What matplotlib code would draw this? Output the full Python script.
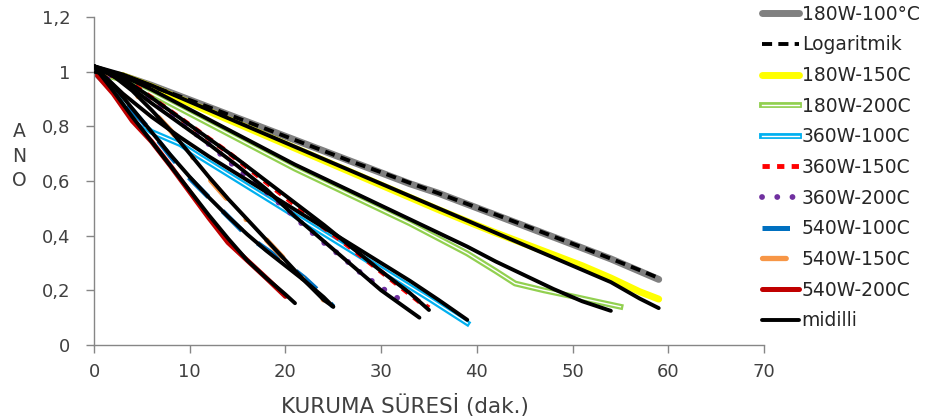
import matplotlib
matplotlib.use("Agg")
import matplotlib.pyplot as plt
import matplotlib.patheffects as pe

plt.rcParams['font.family'] = ['DejaVu Sans']

# ---------------- data ----------------
t_180_100 = [0, 3, 6, 9, 12, 15, 18, 21, 24, 27, 30, 33, 36, 39, 42, 45, 48, 51, 54, 57, 59]
mr_180_100 = [1.0, 0.985, 0.95, 0.91, 0.87, 0.83, 0.79, 0.75, 0.71, 0.67, 0.63, 0.59, 0.555,
              0.515, 0.475, 0.435, 0.395, 0.355, 0.315, 0.27, 0.24]
mr_log = [1.0, 0.98, 0.947, 0.909, 0.87, 0.83, 0.79, 0.75, 0.71, 0.67, 0.632, 0.593, 0.555,
          0.516, 0.477, 0.437, 0.397, 0.357, 0.316, 0.274, 0.245]

t_180_150 = [0, 3, 6, 9, 12, 15, 18, 21, 24, 27, 30, 33, 36, 39, 42, 45, 48, 51, 54, 57, 59]
mr_180_150 = [1.0, 0.985, 0.945, 0.9, 0.855, 0.81, 0.765, 0.72, 0.675, 0.63, 0.585, 0.54, 0.495,
              0.452, 0.41, 0.37, 0.33, 0.29, 0.245, 0.195, 0.168]
mid_180_150 = [1.02, 0.99, 0.95, 0.905, 0.86, 0.815, 0.77, 0.725, 0.68, 0.635, 0.59, 0.545, 0.5,
               0.455, 0.41, 0.365, 0.32, 0.275, 0.23, 0.17, 0.135]

t_180_200 = [0, 3, 6, 9, 12, 15, 18, 21, 24, 27, 30, 33, 36, 39, 42, 44, 47, 50, 53, 55]
mr_180_200 = [1.0, 0.97, 0.92, 0.865, 0.81, 0.755, 0.7, 0.645, 0.595, 0.545, 0.495, 0.445, 0.39,
              0.335, 0.27, 0.225, 0.2, 0.178, 0.155, 0.14]
tm_180_200 = [0, 3, 6, 9, 12, 15, 18, 21, 24, 27, 30, 33, 36, 39, 42, 45, 48, 51, 54]
mid_180_200 = [1.02, 0.985, 0.935, 0.88, 0.825, 0.77, 0.715, 0.66, 0.61, 0.56, 0.51, 0.46, 0.41,
               0.36, 0.305, 0.255, 0.205, 0.16, 0.125]

t_360_100 = [0, 2, 3.5, 6, 9, 11, 14, 17, 20, 23, 26, 29, 32, 35, 37, 39]
mr_360_100 = [1.0, 0.93, 0.85, 0.78, 0.735, 0.69, 0.625, 0.56, 0.495, 0.43, 0.365, 0.30, 0.235,
              0.17, 0.125, 0.08]
tm_360_100 = [0, 3, 6, 9, 12, 15, 18, 21, 24, 27, 30, 33, 36, 39]
mid_360_100 = [1.02, 0.92, 0.835, 0.76, 0.69, 0.625, 0.56, 0.495, 0.43, 0.365, 0.3, 0.235, 0.165, 0.092]

t_360_150 = [0, 2, 4, 6, 8, 10, 12, 14, 16, 18, 20, 22, 24, 26, 28, 30, 32, 34, 35]
mr_360_150 = [1.0, 0.985, 0.955, 0.905, 0.855, 0.805, 0.755, 0.705, 0.65, 0.595, 0.54, 0.486,
              0.43, 0.378, 0.323, 0.268, 0.213, 0.158, 0.136]
tm_360_150 = [0, 3, 6, 9, 12, 15, 18, 21, 24, 27, 30, 33, 35]
mid_360_150 = [1.02, 0.975, 0.905, 0.83, 0.755, 0.68, 0.6, 0.52, 0.44, 0.355, 0.27, 0.19, 0.128]

t_360_200 = [0, 2, 4, 6, 8, 10, 12, 14, 16, 18, 20, 22, 24, 26, 28, 30, 32, 33]
mr_360_200 = [1.0, 0.98, 0.95, 0.89, 0.84, 0.79, 0.735, 0.675, 0.615, 0.56, 0.50, 0.435, 0.375,
              0.32, 0.26, 0.21, 0.165, 0.147]
tm_360_200 = [0, 3, 6, 9, 12, 15, 18, 21, 24, 27, 30, 32, 34]
mid_360_200 = [1.02, 0.965, 0.885, 0.81, 0.735, 0.655, 0.57, 0.47, 0.38, 0.29, 0.2, 0.15, 0.1]

t_540_100 = [0, 2, 4, 6, 8, 10, 12, 14, 16, 18, 20, 22, 24, 25]
mr_540_100 = [1.0, 0.94, 0.86, 0.78, 0.69, 0.61, 0.54, 0.47, 0.40, 0.35, 0.30, 0.245, 0.18, 0.14]
mid_540_100 = [1.02, 0.95, 0.865, 0.78, 0.695, 0.615, 0.54, 0.47, 0.405, 0.345, 0.29, 0.235, 0.175, 0.14]

t_540_150 = [0, 2, 4, 6, 8, 10, 12, 14, 16, 18, 20, 22, 24]
mr_540_150 = [1.0, 0.99, 0.93, 0.86, 0.785, 0.70, 0.61, 0.53, 0.455, 0.385, 0.31, 0.235, 0.165]
tm_540_150 = [0, 2, 4, 6, 8, 10, 12, 14, 16, 18, 20, 22, 24, 25]
mid_540_150 = [1.02, 0.985, 0.93, 0.86, 0.785, 0.7, 0.615, 0.535, 0.46, 0.385, 0.31, 0.235, 0.165, 0.14]

t_540_200 = [0, 2, 4, 6, 8, 10, 12, 14, 16, 18, 20]
mr_540_200 = [1.0, 0.92, 0.82, 0.745, 0.655, 0.56, 0.465, 0.375, 0.31, 0.245, 0.178]
tm_540_200 = [0, 2, 4, 6, 8, 10, 12, 14, 16, 18, 20, 21]
mid_540_200 = [1.02, 0.93, 0.835, 0.745, 0.655, 0.565, 0.475, 0.39, 0.31, 0.245, 0.185, 0.153]

x_ticks = [0, 10, 20, 30, 40, 50, 60, 70]
y_ticks = [0, 0.2, 0.4, 0.6, 0.8, 1.0, 1.2]
y_tick_labels = ["0", "0,2", "0,4", "0,6", "0,8", "1", "1,2"]

# ---------------- figure ----------------
fig = plt.figure(figsize=(9.25, 4.2), dpi=100)
ax = fig.add_axes([94 / 925, 75 / 420, 670 / 925, 328 / 420])

txt = '#404040'
spine_c = '#868686'

def dbl(color, w):
    return [pe.Stroke(linewidth=w, foreground=color), pe.Normal()]

h = {}
h['a'], = ax.plot(t_180_100, mr_180_100, color='#808080', lw=5, solid_capstyle='round', label='180W-100°C', zorder=2)
h['c'], = ax.plot(t_180_150, mr_180_150, color='#FFFF00', lw=5, solid_capstyle='round', label='180W-150C', zorder=2)
h['d'], = ax.plot(t_180_200, mr_180_200, color='white', lw=1.0, label='180W-200C', zorder=2,
                  path_effects=dbl('#92D050', 4.2))
h['e'], = ax.plot(t_360_100, mr_360_100, color='white', lw=1.0, label='360W-100C', zorder=2,
                  path_effects=dbl('#00B0F0', 4.2))
h['f'], = ax.plot(t_360_150, mr_360_150, color='#FF0000', lw=3.5, dashes=(1.5, 1.5),
                  dash_capstyle='butt', label='360W-150C', zorder=2)
h['g'], = ax.plot(t_360_200, mr_360_200, color='#7030A0', lw=4.2, dashes=(0.01, 2.6),
                  dash_capstyle='round', label='360W-200C', zorder=2)
h['h'], = ax.plot(t_540_100, mr_540_100, color='#0070C0', lw=3.6, dashes=(5.5, 4),
                  dash_capstyle='butt', label='540W-100C', zorder=2)
h['i'], = ax.plot(t_540_150, mr_540_150, color='#F79646', lw=3.8, dashes=(4.5, 5.5, 0.01, 5.5),
                  dash_capstyle='round', label='540W-150C', zorder=2)
h['j'], = ax.plot(t_540_200, mr_540_200, color='#C00000', lw=3.6, solid_capstyle='round',
                  label='540W-200C', zorder=2)

h['b'], = ax.plot(t_180_100, mr_log, color='black', lw=2.8, dashes=(2.6, 1.6),
                  dash_capstyle='butt', label='Logaritmik', zorder=3)

mk = dict(color='black', lw=2.8, solid_capstyle='round', zorder=3)
h['k'], = ax.plot(t_180_150, mid_180_150, label='midilli', **mk)
ax.plot(tm_180_200, mid_180_200, **mk)
ax.plot(tm_360_100, mid_360_100, **mk)
ax.plot(tm_360_150, mid_360_150, **mk)
ax.plot(tm_360_200, mid_360_200, **mk)
ax.plot(t_540_100, mid_540_100, **mk)
ax.plot(tm_540_150, mid_540_150, **mk)
ax.plot(tm_540_200, mid_540_200, **mk)

ax.set_xlim(0, 70)
ax.set_ylim(0, 1.2)
ax.set_xticks(x_ticks)
ax.set_yticks(y_ticks)
ax.set_yticklabels(y_tick_labels)
for s in ['top', 'right']:
    ax.spines[s].set_visible(False)
for s in ['left', 'bottom']:
    ax.spines[s].set_color(spine_c)
    ax.spines[s].set_linewidth(1.0)
ax.tick_params(axis='both', direction='out', length=6, width=1.0, color=spine_c,
               labelcolor=txt, labelsize=13)
ax.tick_params(axis='x', pad=7)
ax.tick_params(axis='y', pad=11)
ax.set_facecolor('white')

order = ['a', 'b', 'c', 'd', 'e', 'f', 'g', 'h', 'i', 'j', 'k']
leg = fig.legend([h[k] for k in order], [h[k].get_label() for k in order],
                 loc='upper left', bbox_to_anchor=(760 / 925, 1 - 3 / 420), frameon=False,
                 fontsize=13.5, handlelength=2.0, handletextpad=0.12,
                 labelspacing=0.62, borderaxespad=0, borderpad=0.1)
for t in leg.get_texts():
    t.set_color('#262626')

fig.text(405 / 925, 1 - 405 / 420, 'KURUMA SÜRESİ (dak.)', ha='center', va='center',
         fontsize=15.5, color=txt)
fig.text(19 / 925, 1 - 156 / 420, 'A\nN\nO', ha='center', va='center', fontsize=13.5,
         color=txt, linespacing=1.35)

fig.savefig('out.png', dpi=100, facecolor='white')
